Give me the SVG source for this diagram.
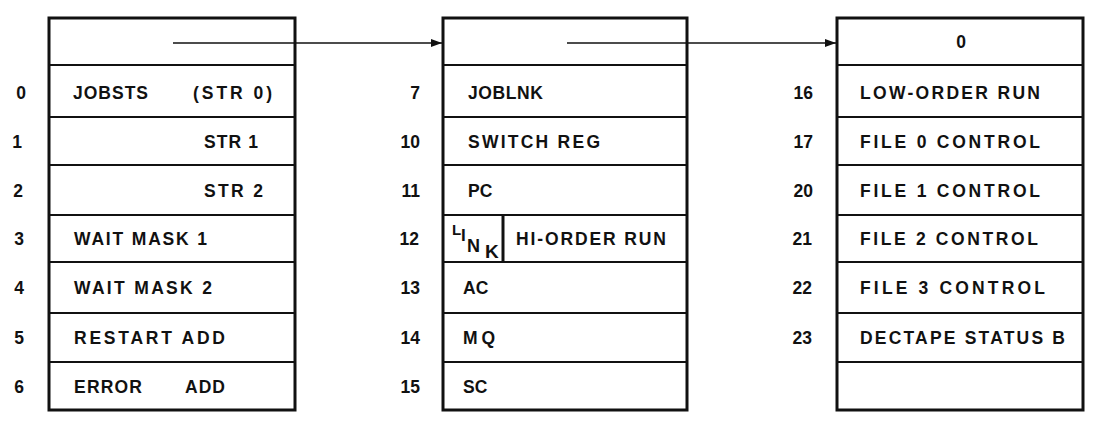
<svg xmlns="http://www.w3.org/2000/svg" width="1094" height="423" viewBox="0 0 1094 423">
<style>
.t{font-family:"Liberation Sans",Arial,sans-serif;font-weight:bold;font-size:17.5px;fill:#111}
.n{font-family:"Liberation Sans",Arial,sans-serif;font-weight:bold;font-size:17.5px;fill:#111}
.box{fill:#fff;stroke:#111;stroke-width:3}
.div{stroke:#111;stroke-width:2}
.conn{stroke:#111;stroke-width:1.6;fill:none}
</style>
<defs>
<marker id="ah" markerUnits="userSpaceOnUse" markerWidth="12" markerHeight="9" refX="11" refY="4.5" orient="auto">
<path d="M0,0.5 L11,4.5 L0,8.5 z" fill="#111"/>
</marker>
</defs>
<rect width="1094" height="423" fill="#fff"/>

<g id="box-left">
<rect class="box" x="49" y="18" width="246" height="392"/>
<line class="div" x1="49" y1="65" x2="295" y2="65"/>
<line class="div" x1="49" y1="117" x2="295" y2="117"/>
<line class="div" x1="49" y1="165" x2="295" y2="165"/>
<line class="div" x1="49" y1="215" x2="295" y2="215"/>
<line class="div" x1="49" y1="262" x2="295" y2="262"/>
<line class="div" x1="49" y1="313" x2="295" y2="313"/>
<line class="div" x1="49" y1="362" x2="295" y2="362"/>
<g id="cell-0"><text class="n" x="21" y="99" text-anchor="middle">0</text><text class="t" x="73" y="99" textLength="75" lengthAdjust="spacing">JOBSTS</text><text class="t" x="193" y="99" textLength="79" lengthAdjust="spacing">(STR 0)</text></g>
<g id="cell-1"><text class="n" x="17" y="148" text-anchor="middle">1</text><text class="t" x="204" y="148" textLength="54" lengthAdjust="spacing">STR 1</text></g>
<g id="cell-2"><text class="n" x="18" y="197" text-anchor="middle">2</text><text class="t" x="204" y="197" textLength="59" lengthAdjust="spacing">STR 2</text></g>
<g id="cell-3"><text class="n" x="19" y="245" text-anchor="middle">3</text><text class="t" x="74" y="245" textLength="133" lengthAdjust="spacing">WAIT MASK 1</text></g>
<g id="cell-4"><text class="n" x="19" y="294" text-anchor="middle">4</text><text class="t" x="74" y="294" textLength="138" lengthAdjust="spacing">WAIT MASK 2</text></g>
<g id="cell-5"><text class="n" x="19" y="344" text-anchor="middle">5</text><text class="t" x="74" y="344" textLength="151" lengthAdjust="spacing">RESTART ADD</text></g>
<g id="cell-6"><text class="n" x="19" y="393" text-anchor="middle">6</text><text class="t" x="74" y="393" textLength="68" lengthAdjust="spacing">ERROR</text><text class="t" x="185" y="393" textLength="40" lengthAdjust="spacing">ADD</text></g>
</g>

<g id="box-middle">
<rect class="box" x="443" y="18" width="244" height="392"/>
<line class="div" x1="443" y1="65" x2="687" y2="65"/>
<line class="div" x1="443" y1="117" x2="687" y2="117"/>
<line class="div" x1="443" y1="165" x2="687" y2="165"/>
<line class="div" x1="443" y1="215" x2="687" y2="215"/>
<line class="div" x1="443" y1="262" x2="687" y2="262"/>
<line class="div" x1="443" y1="313" x2="687" y2="313"/>
<line class="div" x1="443" y1="362" x2="687" y2="362"/>
<g id="cell-7"><text class="n" x="420" y="99" text-anchor="end">7</text><text class="t" x="468" y="99" textLength="75" lengthAdjust="spacing">JOBLNK</text></g>
<g id="cell-10"><text class="n" x="420" y="148" text-anchor="end">10</text><text class="t" x="468" y="148" textLength="132" lengthAdjust="spacing">SWITCH REG</text></g>
<g id="cell-11"><text class="n" x="420" y="197" text-anchor="end">11</text><text class="t" x="468" y="197">PC</text></g>
<g id="cell-12"><text class="n" x="419" y="245" text-anchor="end">12</text>
<line x1="503" y1="215" x2="503" y2="262" stroke="#111" stroke-width="3"/>
<text class="t" style="font-size:15px" x="452" y="235">L</text>
<text class="t" style="font-size:17px" x="461" y="241">I</text>
<text class="t" style="font-size:18px" x="467" y="252">N</text>
<text class="t" style="font-size:19px" x="485" y="258">K</text>
<text class="t" x="516" y="245" textLength="150" lengthAdjust="spacing">HI-ORDER RUN</text></g>
<g id="cell-13"><text class="n" x="420" y="294" text-anchor="end">13</text><text class="t" x="463" y="294">AC</text></g>
<g id="cell-14"><text class="n" x="420" y="344" text-anchor="end">14</text><text class="t" x="463" y="344" textLength="32" lengthAdjust="spacing">MQ</text></g>
<g id="cell-15"><text class="n" x="420" y="393" text-anchor="end">15</text><text class="t" x="463" y="393">SC</text></g>
</g>

<g id="box-right">
<rect class="box" x="837" y="18" width="246" height="392"/>
<line class="div" x1="837" y1="65" x2="1083" y2="65"/>
<line class="div" x1="837" y1="117" x2="1083" y2="117"/>
<line class="div" x1="837" y1="165" x2="1083" y2="165"/>
<line class="div" x1="837" y1="215" x2="1083" y2="215"/>
<line class="div" x1="837" y1="262" x2="1083" y2="262"/>
<line class="div" x1="837" y1="313" x2="1083" y2="313"/>
<line class="div" x1="837" y1="362" x2="1083" y2="362"/>
<g id="cell-top-0"><text class="t" x="961" y="48" text-anchor="middle">0</text></g>
<g id="cell-16"><text class="n" x="813" y="99" text-anchor="end">16</text><text class="t" x="860" y="99" textLength="180" lengthAdjust="spacing">LOW-ORDER RUN</text></g>
<g id="cell-17"><text class="n" x="813" y="148" text-anchor="end">17</text><text class="t" x="860" y="148" textLength="180" lengthAdjust="spacing">FILE 0 CONTROL</text></g>
<g id="cell-20"><text class="n" x="813" y="197" text-anchor="end">20</text><text class="t" x="860" y="197" textLength="180" lengthAdjust="spacing">FILE 1 CONTROL</text></g>
<g id="cell-21"><text class="n" x="812" y="245" text-anchor="end">21</text><text class="t" x="860" y="245" textLength="178" lengthAdjust="spacing">FILE 2 CONTROL</text></g>
<g id="cell-22"><text class="n" x="812" y="294" text-anchor="end">22</text><text class="t" x="860" y="294" textLength="185" lengthAdjust="spacing">FILE 3 CONTROL</text></g>
<g id="cell-23"><text class="n" x="812" y="344" text-anchor="end">23</text><text class="t" x="860" y="344" textLength="205" lengthAdjust="spacing">DECTAPE STATUS B</text></g>
</g>

<g id="connectors">
<line class="conn" x1="173" y1="43" x2="442" y2="43" marker-end="url(#ah)"/>
<line class="conn" x1="567" y1="43" x2="836" y2="43" marker-end="url(#ah)"/>
</g>
</svg>
